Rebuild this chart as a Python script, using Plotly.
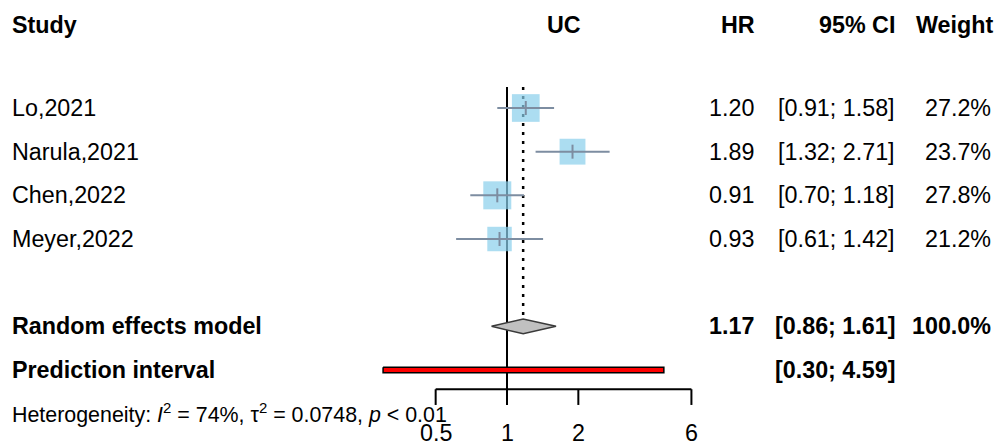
import math
import plotly.graph_objects as go

# ---- data ----
studies = ["Lo,2021", "Narula,2021", "Chen,2022", "Meyer,2022"]
hr = [1.20, 1.89, 0.91, 0.93]
ci_low = [0.91, 1.32, 0.70, 0.61]
ci_high = [1.58, 2.71, 1.18, 1.42]
weight = [27.2, 23.7, 27.8, 21.2]

pooled_label = "Random effects model"
pooled_hr = 1.17
pooled_low = 0.86
pooled_high = 1.61
pooled_weight = 100.0

pred_label = "Prediction interval"
pred_low = 0.30
pred_high = 4.59

tick_vals = [0.5, 1, 2, 6]
tick_text = ["0.5", "1", "2", "6"]

headers = ["Study", "UC", "HR", "95% CI", "Weight"]
het_text = "Heterogeneity: <i>I</i><sup>2</sup> = 74%, τ<sup>2</sup> = 0.0748, <i>p</i> &lt; 0.01"

# ---- layout helpers (row positions) ----
study_rows = [2, 3, 4, 5]
pooled_row = 7
pred_row = 8
header_row = 0.1
axis_row = 8.44
tick_bottom = 8.8
het_row = 8.98
null_top = 1.52

FONT = "Liberation Sans, Arial, sans-serif"
FS = 23.3
W = 998

SQ_COLOR = "#89CFEB"
CI_COLOR = "#7D8DA1"

fig = go.Figure()

# null line (solid) at HR=1
fig.add_trace(go.Scatter(x=[1, 1], y=[null_top, axis_row], mode="lines",
                         line=dict(color="black", width=2), hoverinfo="skip"))
# pooled estimate dotted line
fig.add_trace(go.Scatter(x=[pooled_hr, pooled_hr], y=[null_top, pooled_row - 0.18], mode="lines",
                         line=dict(color="black", width=2.5, dash="3px,6px"), hoverinfo="skip"))

# squares
sizes = [28 * math.sqrt(w / max(weight)) for w in weight]
fig.add_trace(go.Scatter(x=hr, y=study_rows, mode="markers",
                         marker=dict(symbol="square", size=sizes, color=SQ_COLOR,
                                     line=dict(width=0)), hoverinfo="skip"))
# CI lines
cx, cy = [], []
for l, u, r in zip(ci_low, ci_high, study_rows):
    cx += [l, u, None]
    cy += [r, r, None]
fig.add_trace(go.Scatter(x=cx, y=cy, mode="lines", line=dict(color=CI_COLOR, width=2),
                         hoverinfo="skip"))
# centre ticks
fig.add_trace(go.Scatter(x=hr, y=study_rows, mode="markers",
                         marker=dict(symbol="line-ns", size=10, line=dict(color=CI_COLOR, width=2)),
                         hoverinfo="skip"))

# diamond
h = 0.17
fig.add_trace(go.Scatter(x=[pooled_low, pooled_hr, pooled_high, pooled_hr, pooled_low],
                         y=[pooled_row, pooled_row - h, pooled_row, pooled_row + h, pooled_row],
                         mode="lines", fill="toself", fillcolor="#C0C0C0",
                         line=dict(color="#3a3a3a", width=1.5), hoverinfo="skip"))

# prediction interval bar
ph = 0.065
fig.add_trace(go.Scatter(x=[pred_low, pred_high, pred_high, pred_low, pred_low],
                         y=[pred_row - ph, pred_row - ph, pred_row + ph, pred_row + ph, pred_row - ph],
                         mode="lines", fill="toself", fillcolor="#FF0000",
                         line=dict(color="black", width=1.5), hoverinfo="skip"))

# x axis line + ticks
ax_x = [tick_vals[0], tick_vals[-1], None]
ax_y = [axis_row, axis_row, None]
for t in tick_vals:
    ax_x += [t, t, None]
    ax_y += [axis_row, tick_bottom, None]
fig.add_trace(go.Scatter(x=ax_x, y=ax_y, mode="lines", line=dict(color="black", width=2),
                         hoverinfo="skip"))

# ---- text annotations ----
ann = []


def add(text, px, row, anchor, bold=False, size=FS):
    ann.append(dict(text=f"<b>{text}</b>" if bold else text, x=px / W, xref="paper",
                    y=row, yref="y", xanchor=anchor, yanchor="middle", showarrow=False,
                    font=dict(family=FONT, size=size, color="black")))


# tick labels (placed on the log axis, sitting on the bottom edge)
for t, lab in zip(tick_vals, tick_text):
    ann.append(dict(text=lab, x=math.log10(t), xref="x", y=0, yref="paper",
                    xanchor="center", yanchor="bottom", showarrow=False, borderpad=0,
                    font=dict(family=FONT, size=FS, color="black")))

uc_center = 10 ** ((math.log10(tick_vals[0]) + math.log10(tick_vals[-1])) / 2)
uc_px = 507 + 237 * math.log10(uc_center)

add(headers[0], 10, header_row, "left", True)
add(headers[1], uc_px, header_row, "center", True)
add(headers[2], 757, header_row, "right", True)
add(headers[3], 897, header_row, "right", True)
add(headers[4], 995, header_row, "right", True)

for s, v, l, u, w, r in zip(studies, hr, ci_low, ci_high, weight, study_rows):
    add(s, 10, r, "left")
    add(f"{v:.2f}", 756, r, "right")
    add(f"[{l:.2f}; {u:.2f}]", 897, r, "right")
    add(f"{w:.1f}%", 993, r, "right")

add(pooled_label, 10, pooled_row, "left", True)
add(f"{pooled_hr:.2f}", 756, pooled_row, "right", True)
add(f"[{pooled_low:.2f}; {pooled_high:.2f}]", 897, pooled_row, "right", True)
add(f"{pooled_weight:.1f}%", 993, pooled_row, "right", True)

add(pred_label, 10, pred_row, "left", True)
add(f"[{pred_low:.2f}; {pred_high:.2f}]", 897, pred_row, "right", True)

add(het_text, 10, het_row, "left", False, 21.4)

fig.update_layout(
    width=998, height=447,
    margin=dict(l=0, r=0, t=0, b=0),
    paper_bgcolor="white", plot_bgcolor="white",
    showlegend=False,
    annotations=ann,
    xaxis=dict(type="log", range=[-507 / 237, (998 - 507) / 237], domain=[0, 1],
               visible=False, fixedrange=True),
    yaxis=dict(range=[2 + (447 - 108) / 43.67, 2 - 108 / 43.67], visible=False,
               fixedrange=True),
)

fig.write_html("out.html")
